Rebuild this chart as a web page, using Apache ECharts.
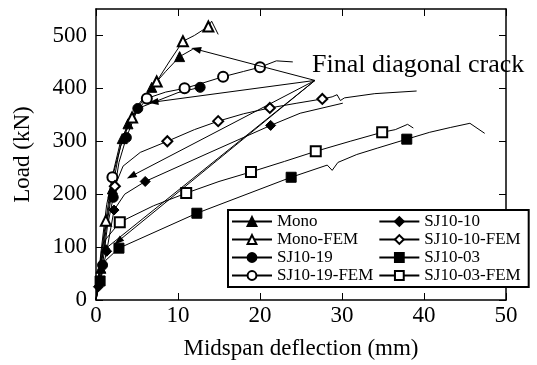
<!DOCTYPE html>
<html>
<head>
<meta charset="utf-8">
<script src="https://cdn.jsdelivr.net/npm/echarts@6/dist/echarts.min.js"></script>
<style>
  html, body { margin: 0; padding: 0; background: #fff; }
  #chart { width: 537px; height: 365px; }
</style>
</head>
<body>
<div id="chart"></div>
<script>
// each point: [deflection (mm), load (kN), marker shown 1/0]
const mono = [[0,0,0],[0.6,60,1],[1.2,130,0],[2.0,210,1],[2.7,270,0],[3.2,305,1],[3.9,333,1],[5.2,370,0],[6.8,402,1],[8.5,432,0],[10.2,460,1],[11.8,474,0]];
const monoFem = [[0,0,0],[0.5,70,0],[1.2,150,1],[2.0,235,0],[3.0,300,0],[4.4,345,1],[6.0,385,0],[7.4,413,1],[9.0,452,0],[10.6,489,1],[12.0,500,0],[13.7,517,1],[14.1,527,0],[14.9,502,0]];
const sj19 = [[0,0,0],[0.8,66,1],[1.4,140,0],[2.1,194,1],[2.8,260,0],[3.7,307,1],[5.1,362,1],[7.4,376,0],[10.0,392,0],[12.7,402,1]];
const sj19Fem = [[0,0,0],[0.6,90,0],[1.3,180,0],[2.0,232,1],[3.0,290,0],[4.2,340,0],[6.2,381,1],[8.5,393,0],[10.8,400,1],[13.0,410,0],[15.5,422,1],[18.0,432,0],[20.0,440,1],[22.0,452,0],[24.0,450,0]];
const sj10 = [[0,0,0],[0.3,25,1],[1.3,92,1],[2.2,170,1],[3.5,200,0],[6.0,224,1],[13.9,279,0],[21.3,330,1],[24.9,353,0],[30.1,372,0]];
const sj10Fem = [[0,0,0],[0.5,60,0],[1.1,130,0],[1.7,190,0],[2.3,215,1],[3.3,253,0],[5.4,279,0],[8.7,300,1],[12.0,322,0],[14.9,338,1],[18.0,352,0],[21.2,363,1],[24.5,372,0],[27.6,380,1],[28.8,384,0],[29.4,388,0],[29.8,377,0],[30.3,382,0],[34.0,390,0],[39.1,395,0]];
const sj03 = [[0,0,0],[0.5,36,1],[1.2,75,0],[2.8,98,1],[12.3,164,1],[23.8,232,1],[28.2,255,0],[28.8,245,0],[29.5,260,0],[31.8,275,0],[34.3,287,0],[37.9,304,1],[40.7,317,0],[43.2,326,0],[45.6,334,0],[47.4,315,0]];
const sj03Fem = [[0,0,0],[0.6,70,0],[1.2,115,0],[2.9,147,1],[7.0,178,0],[11.0,202,1],[15.0,224,0],[18.9,242,1],[23.0,262,0],[26.8,281,1],[31.0,300,0],[34.9,317,1],[36.5,322,0],[38.0,332,0],[38.7,325,0]];

// "Final diagonal crack" arrows: from the label point to each crack point
const crackFrom = [26.7, 415];
const crackTips = [[12.2, 474], [7.0, 374], [4.3, 234], [2.7, 111], [1.0, 95]];

const xTicks = [0, 10, 20, 30, 40, 50];
const yTicks = [0, 100, 200, 300, 400, 500];

const serif = '"Liberation Serif", "Times New Roman", serif';

const myChart = echarts.init(document.getElementById('chart'));

function curve(name, data, symbol) {
  return {
    name: name,
    type: 'line',
    data: data,
    symbol: symbol,
    symbolSize: function (v) { return v[2] ? 10 : 0; },
    showAllSymbol: true,
    encode: { x: 0, y: 1 },
    color: '#000',
    itemStyle: { color: '#000', borderColor: '#000', borderWidth: 1 },
    lineStyle: { color: '#000', width: 1 },
    emphasis: { disabled: true },
    animation: false
  };
}

const series = [
  curve('Mono', mono, 'triangle'),
  curve('Mono-FEM', monoFem, 'emptyTriangle'),
  curve('SJ10-19', sj19, 'circle'),
  curve('SJ10-19-FEM', sj19Fem, 'emptyCircle'),
  curve('SJ10-10', sj10, 'diamond'),
  curve('SJ10-10-FEM', sj10Fem, 'emptyDiamond'),
  curve('SJ10-03', sj03, 'rect'),
  curve('SJ10-03-FEM', sj03Fem, 'emptyRect')
];

series[0].markLine = {
  silent: true,
  symbol: ['none', 'triangle'],
  symbolSize: [7, 10],
  label: { show: false },
  lineStyle: { color: '#000', width: 1, type: 'solid' },
  data: crackTips.map(function (t) { return [{ coord: crackFrom }, { coord: t }]; })
};

const axisTick = { inside: true, length: 7, lineStyle: { color: '#000' } };
const axisLine = { onZero: false, lineStyle: { color: '#000', width: 1.5 } };

const option = {
  backgroundColor: '#fff',
  animation: false,
  grid: { left: 96, right: 31, top: 9, bottom: 64 },
  legend: {
    data: series.map(function (s) { return s.name; }),
    orient: 'vertical',
    left: 228,
    top: 210,
    width: 272,
    height: 72,
    itemWidth: 40,
    itemHeight: 11,
    itemGap: 1,
    padding: [3, 4, 3, 3],
    borderColor: '#000',
    borderWidth: 2,
    borderRadius: 0,
    backgroundColor: '#fff',
    textStyle: { fontFamily: serif, fontSize: 17, lineHeight: 17, color: '#000', padding: [0, 4, 0, 0] },
    selectedMode: false
  },
  xAxis: [{
    type: 'value', min: 0, max: 50, interval: 10,
    name: 'Midspan deflection (mm)', nameLocation: 'middle', nameGap: 37,
    nameTextStyle: { fontFamily: serif, fontSize: 23, color: '#000' },
    axisLine: axisLine,
    axisTick: Object.assign({ customValues: xTicks }, axisTick),
    axisLabel: { fontFamily: serif, fontSize: 23, color: '#000', margin: 4, customValues: xTicks },
    splitLine: { show: false }
  }, {
    type: 'value', min: 0, max: 50, interval: 10, position: 'top',
    axisLine: axisLine,
    axisTick: Object.assign({ customValues: xTicks }, axisTick),
    axisLabel: { show: false }, splitLine: { show: false }
  }],
  yAxis: [{
    type: 'value', min: 0, max: 550, interval: 100,
    name: 'Load (kN)', nameLocation: 'middle', nameGap: 62,
    nameTextStyle: { fontFamily: serif, fontSize: 23, color: '#000' },
    axisLine: axisLine,
    axisTick: Object.assign({ customValues: yTicks }, axisTick),
    axisLabel: { fontFamily: serif, fontSize: 23, color: '#000', margin: 9, customValues: yTicks },
    splitLine: { show: false }
  }, {
    type: 'value', min: 0, max: 550, interval: 100, position: 'right',
    axisLine: axisLine,
    axisTick: Object.assign({ customValues: yTicks }, axisTick),
    axisLabel: { show: false }, splitLine: { show: false }
  }],
  graphic: [{
    type: 'text', left: 312, top: 52,
    style: { text: 'Final diagonal crack', font: '26px ' + serif, fill: '#000' }
  }],
  series: series
};

myChart.setOption(option);
</script>
</body>
</html>
